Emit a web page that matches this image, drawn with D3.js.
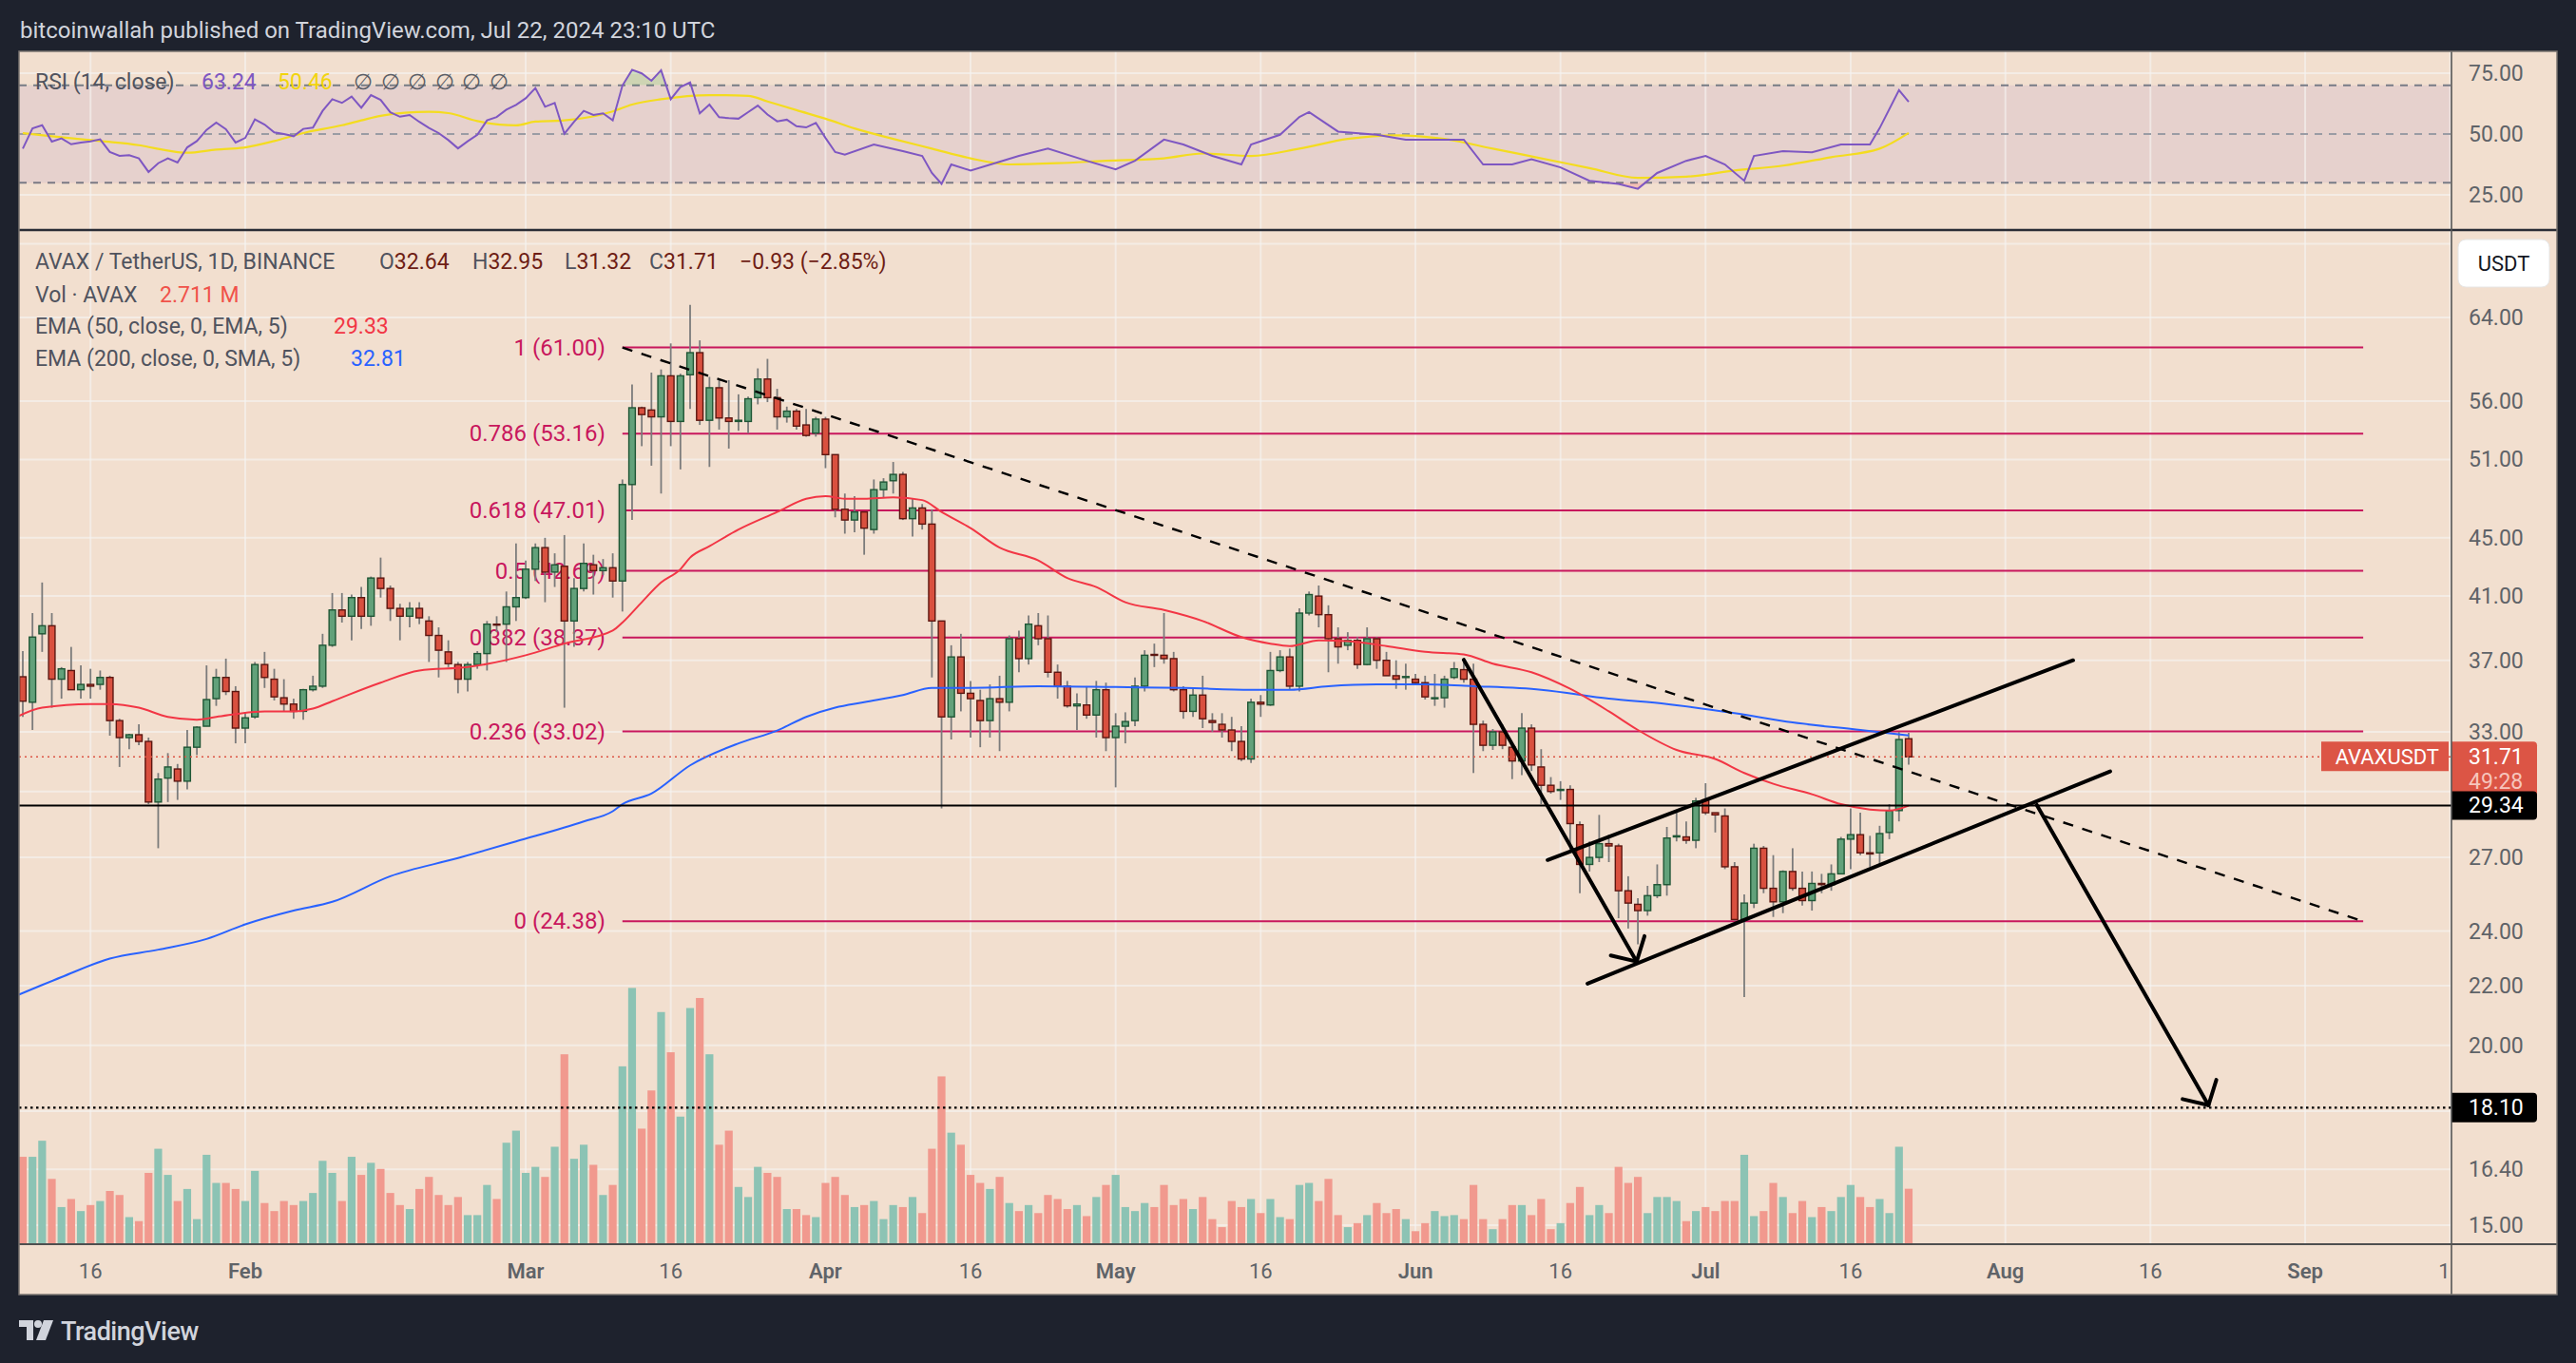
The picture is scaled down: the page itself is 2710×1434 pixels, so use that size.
<!DOCTYPE html>
<html><head><meta charset="utf-8">
<script src="https://cdn.jsdelivr.net/npm/d3@7"></script>
<style>
html,body{margin:0;padding:0;background:#1e222d;}
svg{display:block;}
text{font-family:Roboto,"Noto Sans",sans-serif;}
</style></head><body>
<svg id="c" width="2710" height="1434"></svg>
<script>
// ---------------- DATA ----------------
const firstDate = "2024-01-09", lastDate = "2024-07-22";
const open = [
36.04,34.6,38.6,39.1,35.9,36.4,35.3,35.6,35.6,36.0,
33.6,32.7,32.85,32.5,29.5,30.65,31.1,30.5,32.2,33.3,
34.8,36.0,35.2,33.2,33.8,36.75,35.9,34.85,34.5,34.1,
35.3,35.5,37.9,40.1,39.7,40.9,39.7,42.2,41.5,40.2,
39.7,40.2,39.4,38.5,37.5,36.75,35.9,36.75,37.4,39.2,
39.2,40.3,40.9,42.8,44.3,42.6,43.0,39.4,41.5,43.1,
42.7,42.9,42.0,49.0,55.4,55.2,54.6,58.3,54.2,58.4,
60.5,54.3,57.2,54.5,54.2,54.2,56.3,58.0,56.3,54.6,
55.1,53.9,53.2,54.4,51.4,47.1,46.3,46.9,45.6,48.6,
49.3,49.8,46.4,47.2,46.0,39.4,33.8,37.2,35.1,34.7,
33.6,34.8,34.6,38.3,37.1,39.1,38.3,36.3,35.5,34.4,
34.45,33.9,35.3,32.7,33.3,33.6,35.5,37.35,37.3,37.1,
35.3,34.1,35.0,33.6,33.4,33.1,32.5,31.6,34.6,34.45,
36.4,37.2,35.5,39.9,41.0,39.8,38.3,37.9,38.2,36.75,
38.3,37.0,36.1,36.0,35.9,35.7,34.8,34.85,36.0,36.45,
35.9,33.4,32.3,33.0,32.2,31.5,33.2,31.2,30.3,30.05,
30.1,28.45,26.7,27.0,27.6,27.5,25.6,25.05,24.8,25.4,
25.85,27.9,27.9,27.75,29.6,29.0,28.85,26.6,24.45,25.1,
27.4,25.7,25.15,26.4,25.7,25.2,25.9,25.85,26.3,27.8,
28.0,27.2,27.2,28.1,29.1,32.64];
const high = [
37.55,39.9,41.9,39.9,36.6,37.8,36.7,36.5,36.4,36.1,
33.7,32.9,33.4,32.7,30.9,31.9,31.35,33.1,33.3,36.7,
36.5,37.1,35.5,34.0,36.9,37.5,36.5,35.9,34.8,35.35,
36.1,38.6,41.2,41.2,41.1,41.6,42.3,43.6,41.7,40.5,
40.6,40.6,39.7,39.0,38.2,36.9,36.9,37.55,39.4,39.7,
41.3,44.6,43.4,44.6,45.0,43.9,45.2,42.2,44.6,43.8,
43.5,43.9,49.4,57.5,55.5,58.6,58.9,61.4,58.5,65.3,
61.7,58.2,57.9,57.9,56.6,56.4,59.0,59.9,57.1,55.5,
55.3,55.3,54.6,54.6,51.4,48.3,48.1,46.9,49.4,49.5,
50.8,50.0,47.9,47.5,47.1,39.4,37.9,38.6,35.8,35.3,
35.6,36.1,38.5,38.8,39.75,39.9,39.75,36.75,35.8,35.1,
35.5,35.8,35.7,34.0,34.05,36.0,37.6,38.0,39.9,37.5,
35.5,35.4,36.1,34.0,34.0,33.8,33.3,34.8,35.0,37.5,
37.6,37.7,40.2,41.3,41.7,40.4,39.0,38.7,38.4,39.0,
38.4,37.5,37.0,36.8,36.2,36.1,36.2,36.1,36.9,37.0,
36.8,33.6,33.15,33.4,32.4,34.0,33.4,32.1,30.7,30.5,
30.3,28.6,27.7,28.9,28.0,27.6,26.2,25.3,25.8,26.7,
28.35,29.1,28.6,29.7,30.4,29.0,29.2,26.8,25.45,27.6,
27.5,27.1,26.45,27.4,26.4,26.4,26.3,26.7,27.9,29.2,
29.0,27.95,28.4,29.4,33.0,32.95];
const low = [
33.8,33.1,37.5,34.3,34.8,35.3,34.8,34.8,35.3,32.8,
31.2,32.1,32.3,29.4,27.4,29.5,29.6,30.1,31.8,33.3,
34.4,35.0,32.4,32.4,33.7,35.4,34.7,34.1,33.7,33.65,
35.2,35.4,37.8,39.3,38.2,38.9,39.1,40.9,39.4,38.2,
39.0,39.2,36.9,36.0,36.6,35.1,35.2,36.5,36.4,38.7,
36.9,39.4,40.8,42.0,40.6,41.6,34.3,37.8,41.3,41.1,
42.4,40.9,40.0,46.3,52.1,50.5,48.3,52.1,50.2,55.3,
53.9,50.4,53.5,51.9,53.4,53.2,55.7,55.9,53.5,54.1,
53.5,52.9,52.9,50.3,46.5,45.3,45.4,43.8,45.3,48.0,
48.3,46.3,45.1,45.6,36.0,29.2,32.6,34.1,32.7,32.2,
32.7,32.0,34.1,36.3,36.75,37.9,36.0,34.8,34.3,33.1,
33.7,32.7,32.0,30.2,32.4,33.3,35.2,36.6,36.8,35.2,
33.7,33.8,33.2,33.0,32.7,32.0,31.5,31.4,33.8,34.4,
36.3,35.3,35.2,39.75,39.0,36.3,36.8,37.6,36.5,36.7,
36.5,36.1,35.35,35.3,35.6,34.75,34.4,34.3,35.9,35.7,
30.9,32.0,32.06,32.1,30.6,30.8,31.0,29.4,29.9,29.6,
27.3,25.5,26.4,26.8,26.8,24.5,24.1,23.5,24.6,25.3,
25.4,27.7,27.6,27.4,28.9,28.1,26.5,24.4,21.6,24.9,
25.5,24.55,24.7,25.6,25.0,24.8,25.5,25.6,26.3,26.5,
27.1,26.6,26.7,27.8,28.6,31.32];
const close = [
34.66,38.4,39.1,35.9,36.5,35.3,35.6,35.5,36.0,33.6,
32.7,32.85,32.5,29.5,30.6,31.2,30.5,32.2,33.25,34.75,
36.0,35.2,33.2,33.75,36.75,36.0,34.9,34.5,34.1,35.3,
35.5,37.9,40.1,39.7,40.9,39.7,42.2,41.5,40.2,39.7,
40.2,39.6,38.5,37.6,36.8,35.9,36.75,37.4,39.2,39.15,
40.3,40.9,42.8,44.3,42.6,43.1,39.4,41.5,43.2,42.7,
42.9,42.0,49.0,55.4,54.8,54.6,58.3,54.2,58.3,60.5,
54.3,57.2,54.5,54.2,54.3,56.2,58.0,56.3,54.6,55.1,
53.8,53.0,54.4,51.4,47.1,46.3,46.9,45.7,48.6,49.2,
49.8,46.4,47.2,46.0,39.4,33.8,37.2,35.1,34.8,33.6,
34.8,34.6,38.3,37.1,39.2,38.3,36.3,35.5,34.4,34.5,
33.9,35.3,32.7,33.3,33.55,35.5,37.3,37.3,37.1,35.3,
34.1,35.0,33.7,33.5,33.1,32.5,31.6,34.6,34.5,36.4,
37.2,35.5,39.9,41.1,39.8,38.3,37.8,38.2,36.75,38.3,
37.0,36.1,35.9,36.05,35.7,34.9,34.85,35.9,36.5,35.9,
33.4,32.3,33.0,32.3,31.5,33.2,31.3,30.3,30.0,30.1,
28.5,26.7,27.0,27.6,27.5,25.6,25.1,24.8,25.4,25.85,
27.85,27.95,27.75,29.55,29.0,28.9,26.6,24.45,25.1,27.4,
25.7,25.15,26.4,25.7,25.2,25.9,25.85,26.3,27.8,28.0,
27.2,27.15,28.05,29.1,32.6,31.71];
const volume = [ // millions of AVAX
4.3,4.3,5.1,3.2,1.8,2.2,1.6,1.9,2.1,2.6,
2.4,1.3,1.1,3.5,4.7,3.4,2.1,2.7,1.2,4.4,
3.0,3.0,2.7,2.1,3.6,2.0,1.6,2.1,1.9,2.1,
2.5,4.1,3.5,2.1,4.3,3.4,4.0,3.7,2.5,1.9,
1.7,2.7,3.3,2.4,1.9,2.3,1.4,1.4,2.9,2.2,
5.0,5.6,3.5,3.8,3.3,4.8,9.4,4.2,4.9,3.9,
2.4,2.9,8.8,12.7,5.7,7.6,11.5,9.5,6.3,11.7,
12.2,9.4,4.9,5.6,2.8,2.3,3.8,3.5,3.3,1.7,
1.7,1.4,1.3,3.0,3.3,2.4,1.8,1.9,2.1,1.2,
1.9,1.8,2.3,1.5,4.7,8.3,5.5,4.9,3.4,3.0,
2.7,3.3,2.0,1.6,1.9,1.5,2.4,2.2,1.7,1.9,
1.35,2.3,2.9,3.4,1.8,1.6,2.0,1.8,2.9,1.9,
2.2,1.7,2.3,1.2,0.8,2.1,1.8,2.2,1.5,2.2,
1.3,1.2,2.9,3.0,2.1,3.2,1.4,0.8,1.0,1.4,
2.0,1.5,1.7,1.2,0.6,1.0,1.6,1.35,1.4,1.2,
2.9,1.2,0.7,1.2,1.9,1.9,1.4,2.2,0.7,1.0,
2.0,2.8,1.4,1.9,1.5,3.8,3.0,3.3,1.5,2.3,
2.3,2.1,1.1,1.6,1.8,1.6,2.1,2.1,4.4,1.35,
1.6,3.0,2.3,1.5,2.1,1.3,1.8,1.6,2.3,2.9,
2.3,1.8,2.2,1.5,4.8,2.711];

const ema50 = [["2024-01-08",33.7],["2024-01-11",34.3],["2024-01-16",34.5],["2024-01-18",34.5],["2024-01-21",34.3],["2024-01-24",33.8],["2024-01-27",33.65],["2024-01-29",33.8],["2024-02-03",34.1],["2024-02-06",34.1],["2024-02-08",34.25],["2024-02-10",34.66],["2024-02-15",35.7],["2024-02-19",36.4],["2024-02-24",36.6],["2024-03-01",37.3],["2024-03-05",38.0],["2024-03-10",38.8],["2024-03-11",39.3],["2024-03-13",40.6],["2024-03-15",41.9],["2024-03-17",42.8],["2024-03-18",43.6],["2024-03-20",44.4],["2024-03-23",45.6],["2024-03-27",46.9],["2024-03-30",47.9],["2024-04-01",48.1],["2024-04-03",47.9],["2024-04-05",47.9],["2024-04-08",48.0],["2024-04-11",47.8],["2024-04-13",46.9],["2024-04-16",45.7],["2024-04-19",44.3],["2024-04-23",43.4],["2024-04-26",42.2],["2024-04-29",41.6],["2024-05-02",40.6],["2024-05-06",40.1],["2024-05-10",39.4],["2024-05-14",38.4],["2024-05-17",38.0],["2024-05-19",37.85],["2024-05-22",38.2],["2024-05-25",38.15],["2024-05-29",37.85],["2024-06-02",37.5],["2024-06-06",37.35],["2024-06-09",36.8],["2024-06-13",36.3],["2024-06-17",35.35],["2024-06-21",34.1],["2024-06-24",33.1],["2024-06-28",32.06],["2024-07-02",31.6],["2024-07-05",30.9],["2024-07-08",30.37],["2024-07-12",29.87],["2024-07-15",29.4],["2024-07-18",29.15],["2024-07-20",29.1],["2024-07-22",29.33]];
const ema200 = [["2024-01-08",21.6],["2024-01-13",22.3],["2024-01-18",22.97],["2024-01-23",23.3],["2024-01-28",23.7],["2024-02-01",24.26],["2024-02-06",24.8],["2024-02-10",25.15],["2024-02-16",26.2],["2024-02-23",26.97],["2024-02-29",27.7],["2024-03-07",28.6],["2024-03-10",29.07],["2024-03-11",29.4],["2024-03-14",29.9],["2024-03-18",31.28],["2024-03-23",32.4],["2024-03-27",33.07],["2024-03-30",33.8],["2024-04-02",34.3],["2024-04-05",34.6],["2024-04-09",35.0],["2024-04-12",35.4],["2024-04-16",35.4],["2024-04-23",35.5],["2024-05-01",35.45],["2024-05-08",35.4],["2024-05-15",35.3],["2024-05-19",35.3],["2024-05-23",35.5],["2024-05-28",35.6],["2024-06-02",35.6],["2024-06-07",35.5],["2024-06-14",35.3],["2024-06-21",34.8],["2024-06-27",34.5],["2024-07-04",34.0],["2024-07-10",33.5],["2024-07-17",33.1],["2024-07-22",32.81]];

const rsi = [["2024-01-09",44],["2024-01-10",52.3],["2024-01-11",53.6],["2024-01-12",46.9],["2024-01-13",48.2],["2024-01-14",45.8],["2024-01-15",46.5],["2024-01-16",47],["2024-01-17",47.8],["2024-01-18",42.6],["2024-01-19",41.0],["2024-01-20",41.3],["2024-01-21",40],["2024-01-22",34.4],["2024-01-23",38.0],["2024-01-24",40],["2024-01-25",38.3],["2024-01-26",44.5],["2024-01-27",47.1],["2024-01-28",51.7],["2024-01-29",54.7],["2024-01-30",52],["2024-01-31",46.5],["2024-02-01",48.4],["2024-02-02",56],["2024-02-03",53.9],["2024-02-04",50.7],["2024-02-05",50],["2024-02-06",49.1],["2024-02-07",52.1],["2024-02-08",52.6],["2024-02-09",59.5],["2024-02-10",64.3],["2024-02-11",62.8],["2024-02-12",65.4],["2024-02-13",60.8],["2024-02-14",66],["2024-02-15",64],["2024-02-16",58.9],["2024-02-17",57.1],["2024-02-18",57.8],["2024-02-19",55],["2024-02-20",52.5],["2024-02-21",50.4],["2024-02-22",47.5],["2024-02-23",44.1],["2024-02-24",47],["2024-02-25",49.7],["2024-02-26",55.6],["2024-02-27",57],["2024-02-28",60],["2024-02-29",62],["2024-03-01",64.7],["2024-03-02",68.9],["2024-03-03",61.2],["2024-03-04",62.8],["2024-03-05",50.1],["2024-03-06",55],["2024-03-07",59.5],["2024-03-08",57.8],["2024-03-09",58.5],["2024-03-10",55.6],["2024-03-11",69.9],["2024-03-12",76.4],["2024-03-13",74.9],["2024-03-14",71.9],["2024-03-15",76.2],["2024-03-16",64.3],["2024-03-17",69.3],["2024-03-18",71.2],["2024-03-19",58.5],["2024-03-20",62.1],["2024-03-21",56.9],["2024-03-22",56.5],["2024-03-23",56.3],["2024-03-24",59],["2024-03-25",61.7],["2024-03-26",58],["2024-03-27",55.2],["2024-03-28",55.9],["2024-03-29",53.2],["2024-03-30",52.7],["2024-03-31",54.6],["2024-04-01",48.4],["2024-04-02",42.6],["2024-04-03",41.5],["2024-04-06",45.7],["2024-04-09",43],["2024-04-11",41],["2024-04-12",34],["2024-04-13",29.5],["2024-04-14",37.5],["2024-04-16",35],["2024-04-21",41],["2024-04-24",44],["2024-04-28",39],["2024-05-01",35.5],["2024-05-03",39],["2024-05-06",47.7],["2024-05-08",45.7],["2024-05-11",41],["2024-05-14",37.5],["2024-05-15",45.7],["2024-05-18",49.7],["2024-05-20",57],["2024-05-21",59],["2024-05-24",51],["2024-05-28",49.7],["2024-05-31",47.7],["2024-06-04",47.7],["2024-06-06",47.7],["2024-06-08",37.5],["2024-06-11",37.5],["2024-06-13",39.6],["2024-06-16",36.3],["2024-06-19",30.8],["2024-06-22",29.5],["2024-06-24",27.5],["2024-06-26",34],["2024-06-29",39],["2024-07-01",41],["2024-07-03",37.5],["2024-07-05",30.8],["2024-07-06",41],["2024-07-09",43],["2024-07-12",42.5],["2024-07-15",45.7],["2024-07-18",45.7],["2024-07-19",52.4],["2024-07-21",68],["2024-07-22",63.24]];
const rsiMA = [["2024-01-09",50.4],["2024-01-12",49.1],["2024-01-17",47.1],["2024-01-21",45.4],["2024-01-23",43.9],["2024-01-26",42.3],["2024-01-29",43.6],["2024-02-01",44.5],["2024-02-04",47.1],["2024-02-07",50.4],["2024-02-11",53.6],["2024-02-13",55.6],["2024-02-15",57.5],["2024-02-20",59.1],["2024-02-22",58.6],["2024-02-25",55.3],["2024-02-29",53.6],["2024-03-02",55.1],["2024-03-05",55.6],["2024-03-10",59.3],["2024-03-12",62.1],["2024-03-15",64.3],["2024-03-20",66],["2024-03-24",65.7],["2024-03-26",63.4],["2024-03-29",59.8],["2024-04-01",56.3],["2024-04-04",52.3],["2024-04-08",48],["2024-04-12",44],["2024-04-16",40],["2024-04-20",37.5],["2024-04-25",38],["2024-04-30",39],["2024-05-06",40],["2024-05-10",42],["2024-05-15",41],["2024-05-20",44],["2024-05-25",48],["2024-05-30",49.5],["2024-06-04",48],["2024-06-09",44],["2024-06-14",40],["2024-06-19",36],["2024-06-24",32],["2024-06-29",32.5],["2024-07-04",35],["2024-07-09",37],["2024-07-14",40.5],["2024-07-19",44],["2024-07-22",50.46]];

const fibRatios = ["1","0.786","0.618","0.5","0.382","0.236","0"];
const fibPrices = [61.00,53.16,47.01,42.69,38.37,33.02,24.38];
const fibSpan = ["2024-03-11","2024-09-07"];
const dashedTrend = [["2024-03-11",61.0],["2024-09-07",24.38]];
const channelUpper = [["2024-06-14T16:00:00Z",26.89],["2024-08-08T00:00:00Z",37.0]];
const channelLower = [["2024-06-18T19:00:00Z",22.07],["2024-08-11T20:00:00Z",30.98]];
const arrowDown1 = [["2024-06-06T00:00:00Z",37.03],["2024-06-23T21:00:00Z",22.86]];
const arrowDown2 = [["2024-08-04T06:00:00Z",29.36],["2024-08-22T00:00:00Z",18.17]];
const supportLevel = 29.34, targetLevel = 18.10, lastPrice = 31.71;

const priceTicks = [64,56,51,45,41,37,33,27,24,22,20,16.4,15];
const priceGridOnly = [72,30,18];
const rsiTicks = [75,50,25];
const rsiBands = [70,50,30];
const timeTicks = ["2024-01-16","2024-02-01","2024-03-01","2024-03-16","2024-04-01","2024-04-16","2024-05-01","2024-05-16","2024-06-01","2024-06-16","2024-07-01","2024-07-16","2024-08-01","2024-08-16","2024-09-01","2024-09-16"];
const timeLabels = ["16","Feb","Mar","16","Apr","16","May","16","Jun","16","Jul","16","Aug","16","Sep","16"];

// ---------------- LAYOUT ----------------
const W=2710,H=1434, PL=20, PR=2579, AXR=2690, TOP=54, RSIB=242, PB=1309, BOT=1362;
const C = {bg:"#f2dfcf", dark:"#1e222d", grid:"rgba(246,244,242,0.62)", up:"#62a17a", upB:"#1f5635", dn:"#d9503f", dnB:"#5c1610",
  wick:"#7b7b7b", vUp:"#8cc3b4", vDn:"#f1998e", fib:"#c8175d", ema50:"#f23645", ema200:"#2962ff", rsi:"#7e57c2", rsiMa:"#f4dc1f", txt:"#50535e", axis:"#5f6368"};
const parse = s => new Date(s.length===10 ? s+"T00:00:00Z" : s);

const x = d3.scaleUtc().domain([parse("2024-01-01"), parse("2024-09-16")]).range([-57.4, 2577.7]);
const y = d3.scaleLog().domain([64,15]).range([334,1289]);
const ry = d3.scaleLinear().domain([75,25]).range([77,205]);
const vy = d3.scaleLinear().domain([0,10]).range([1308,1096.5]);

const dates = d3.utcDay.range(parse(firstDate), d3.utcDay.offset(parse(lastDate),1));
const bars = dates.map((d,i)=>({d, o:open[i], h:high[i], l:low[i], c:close[i], v:volume[i]}));

const svg = d3.select("#c");
svg.append("rect").attr("width",W).attr("height",H).attr("fill",C.dark);
svg.append("rect").attr("x",PL).attr("y",TOP).attr("width",AXR-PL).attr("height",BOT-TOP).attr("fill",C.bg);

const defs = svg.append("defs");
defs.append("clipPath").attr("id","cp").append("rect").attr("x",PL).attr("y",RSIB).attr("width",PR-PL).attr("height",PB-RSIB);
defs.append("clipPath").attr("id","cr").append("rect").attr("x",PL).attr("y",TOP).attr("width",PR-PL).attr("height",RSIB-TOP);
defs.append("clipPath").attr("id","ct").append("rect").attr("x",PL).attr("y",PB).attr("width",PR-PL).attr("height",BOT-PB);
defs.append("clipPath").attr("id","cob").append("rect").attr("x",PL).attr("y",TOP).attr("width",PR-PL).attr("height",ry(70)-TOP);
defs.append("clipPath").attr("id","cos").append("rect").attr("x",PL).attr("y",ry(30)).attr("width",PR-PL).attr("height",RSIB-ry(30));

// ---- RSI pane ----
const gR = svg.append("g").attr("clip-path","url(#cr)");
gR.append("rect").attr("x",PL).attr("y",ry(70)).attr("width",PR-PL).attr("height",ry(30)-ry(70)).attr("fill","rgba(126,87,194,0.10)");
timeTicks.forEach(t=>gR.append("line").attr("x1",x(parse(t))).attr("x2",x(parse(t))).attr("y1",TOP).attr("y2",RSIB).attr("stroke",C.grid).attr("stroke-width",2));
[75,25].forEach(v=>gR.append("line").attr("x1",PL).attr("x2",PR).attr("y1",ry(v)).attr("y2",ry(v)).attr("stroke",C.grid).attr("stroke-width",2));
rsiBands.forEach(v=>gR.append("line").attr("x1",PL).attr("x2",PR).attr("y1",ry(v)).attr("y2",ry(v))
  .attr("stroke", v===50?"#9a9ca4":"#787b86").attr("stroke-width",2).attr("stroke-dasharray","8,7"));
// overbought / oversold fills
gR.append("path").datum(rsi).attr("clip-path","url(#cob)").attr("fill","rgba(76,175,80,0.22)")
  .attr("d", d3.area().x(d=>x(parse(d[0]))).y0(ry(70)).y1(d=>ry(d[1])));
gR.append("path").datum(rsi).attr("clip-path","url(#cos)").attr("fill","rgba(242,54,69,0.18)")
  .attr("d", d3.area().x(d=>x(parse(d[0]))).y0(ry(30)).y1(d=>ry(d[1])));
gR.append("path").datum(rsiMA).attr("fill","none").attr("stroke",C.rsiMa).attr("stroke-width",2.2)
  .attr("d", d3.line().x(d=>x(parse(d[0]))).y(d=>ry(d[1])).curve(d3.curveMonotoneX));
gR.append("path").datum(rsi).attr("fill","none").attr("stroke",C.rsi).attr("stroke-width",2)
  .attr("d", d3.line().x(d=>x(parse(d[0]))).y(d=>ry(d[1])));

// ---- Price pane ----
const gP = svg.append("g").attr("clip-path","url(#cp)");
timeTicks.forEach(t=>gP.append("line").attr("x1",x(parse(t))).attr("x2",x(parse(t))).attr("y1",RSIB).attr("y2",PB).attr("stroke",C.grid).attr("stroke-width",2));
priceTicks.concat(priceGridOnly).forEach(p=>gP.append("line").attr("x1",PL).attr("x2",PR).attr("y1",y(p)).attr("y2",y(p)).attr("stroke",C.grid).attr("stroke-width",2));

// volume
gP.selectAll("rect.vol").data(bars).join("rect").attr("class","vol")
  .attr("x",d=>x(d.d)-4.1).attr("width",8.2).attr("y",d=>vy(d.v)).attr("height",d=>vy(0)-vy(d.v))
  .attr("fill",d=>d.c>=d.o?C.vUp:C.vDn);

// fib
const fx0 = x(parse(fibSpan[0])), fx1 = x(parse(fibSpan[1]));
fibPrices.forEach((p,i)=>{
  gP.append("line").attr("x1",fx0).attr("x2",fx1).attr("y1",y(p)).attr("y2",y(p)).attr("stroke",C.fib).attr("stroke-width",2);
  gP.append("text").attr("x",fx0-18).attr("y",y(p)+8).attr("text-anchor","end").attr("font-size",24).attr("fill",C.fib)
    .text(`${fibRatios[i]} (${p.toFixed(2)})`);
});

// candles
const cg = gP.append("g");
bars.forEach(b=>{
  const cx = x(b.d), up = b.c>=b.o;
  cg.append("line").attr("x1",cx).attr("x2",cx).attr("y1",y(b.h)).attr("y2",y(b.l)).attr("stroke",C.wick).attr("stroke-width",1.8);
  const top = y(Math.max(b.o,b.c)), bot = y(Math.min(b.o,b.c));
  cg.append("rect").attr("x",cx-3.4).attr("width",6.8).attr("y",top).attr("height",Math.max(bot-top,1))
    .attr("fill",up?C.up:C.dn).attr("stroke",up?C.upB:C.dnB).attr("stroke-width",1.4);
});

// EMAs
const pl = d3.line().x(d=>x(parse(d[0]))).y(d=>y(d[1])).curve(d3.curveMonotoneX);
gP.append("path").datum(ema200).attr("fill","none").attr("stroke",C.ema200).attr("stroke-width",2).attr("d",pl);
gP.append("path").datum(ema50).attr("fill","none").attr("stroke",C.ema50).attr("stroke-width",2).attr("d",pl);

// horizontal levels
gP.append("line").attr("x1",PL).attr("x2",PR).attr("y1",y(lastPrice)).attr("y2",y(lastPrice)).attr("stroke","#dc5545").attr("stroke-width",1.6).attr("stroke-dasharray","2,4");
gP.append("line").attr("x1",PL).attr("x2",PR).attr("y1",y(supportLevel)).attr("y2",y(supportLevel)).attr("stroke","#000").attr("stroke-width",2);
gP.append("line").attr("x1",PL).attr("x2",PR).attr("y1",y(targetLevel)).attr("y2",y(targetLevel)).attr("stroke","#000").attr("stroke-width",2.2).attr("stroke-dasharray","2.5,3.5");

// drawings
const pt = d=>[x(parse(d[0])), y(d[1])];
gP.append("path").attr("d", d3.line()(dashedTrend.map(pt))).attr("stroke","#000").attr("stroke-width",2.4).attr("stroke-dasharray","11,10").attr("fill","none");
[channelUpper, channelLower, arrowDown1, arrowDown2].forEach(seg=>{
  gP.append("path").attr("d", d3.line()(seg.map(pt))).attr("stroke","#000").attr("stroke-width",4).attr("fill","none").attr("stroke-linecap","round");
});
function head(seg){
  const p0=pt(seg[0]), p1=pt(seg[1]), a=Math.atan2(p1[1]-p0[1],p1[0]-p0[0]), L=28, g=0.82;
  return `M${p1[0]-L*Math.cos(a-g)},${p1[1]-L*Math.sin(a-g)}L${p1[0]},${p1[1]}L${p1[0]-L*Math.cos(a+g)},${p1[1]-L*Math.sin(a+g)}`;
}
[arrowDown1, arrowDown2].forEach(seg=>gP.append("path").attr("d",head(seg)).attr("stroke","#000").attr("stroke-width",4).attr("fill","none").attr("stroke-linecap","round").attr("stroke-linejoin","round"));

// price label on chart
gP.append("rect").attr("x",2442).attr("y",y(lastPrice)-16).attr("width",PR-2442-3).attr("height",31).attr("fill","#dc5545");
gP.append("text").attr("x",PR-13).attr("y",y(lastPrice)+8).attr("text-anchor","end").attr("font-size",22).attr("fill","#fff").text("AVAXUSDT");

// ---- Legends ----
const lg = svg.append("g").attr("font-size",23);
const rl = lg.append("text").attr("x",37).attr("y",94).attr("fill",C.txt);
rl.append("tspan").text("RSI (14, close)");
lg.append("text").attr("x",212).attr("y",94).attr("fill",C.rsi).text("63.24");
lg.append("text").attr("x",292).attr("y",94).attr("fill","#f2d40c").text("50.46");
d3.range(6).forEach(i=>lg.append("text").attr("x",372+i*28.5).attr("y",94).attr("fill","#5a5d66").text("\u2205"));

lg.append("text").attr("x",37).attr("y",283).attr("fill",C.txt).text("AVAX / TetherUS, 1D, BINANCE");
const ohlc = [["O","32.64",399],["H","32.95",497],["L","31.32",594],["C","31.71",683]];
ohlc.forEach(o=>{const t=lg.append("text").attr("x",o[2]).attr("y",283);
  t.append("tspan").attr("fill",C.txt).text(o[0]); t.append("tspan").attr("fill","#6e1d15").text(o[1]);});
lg.append("text").attr("x",778).attr("y",283).attr("fill","#6e1d15").text("\u22120.93 (\u22122.85%)");
lg.append("text").attr("x",37).attr("y",318).attr("fill",C.txt).text("Vol \u00b7 AVAX");
lg.append("text").attr("x",168).attr("y",318).attr("fill","#f0524a").text("2.711 M");
lg.append("text").attr("x",37).attr("y",351).attr("fill",C.txt).text("EMA (50, close, 0, EMA, 5)");
lg.append("text").attr("x",351).attr("y",351).attr("fill",C.ema50).text("29.33");
lg.append("text").attr("x",37).attr("y",385).attr("fill",C.txt).text("EMA (200, close, 0, SMA, 5)");
lg.append("text").attr("x",369).attr("y",385).attr("fill",C.ema200).text("32.81");

// ---- Axes ----
const ax = svg.append("g").attr("font-size",23).attr("fill",C.axis);
rsiTicks.forEach(v=>ax.append("text").attr("x",2597).attr("y",ry(v)+8).text(v.toFixed(2)));
priceTicks.forEach(p=>ax.append("text").attr("x",2597).attr("y",y(p)+8).text(p.toFixed(2)));
// USDT box
svg.append("rect").attr("x",2586).attr("y",252).attr("width",96).attr("height",50).attr("rx",8).attr("fill","#fff").attr("stroke","#e6e6e6");
svg.append("text").attr("x",2634).attr("y",285).attr("text-anchor","middle").attr("font-size",22).attr("fill","#131722").text("USDT");
// last price box
svg.append("path").attr("d",`M${PR},${y(lastPrice)-16}h86a4,4 0 0 1 4,4v50a4,4 0 0 1 -4,4h-86z`).attr("fill","#dc5545");
svg.append("text").attr("x",2597).attr("y",y(lastPrice)+8).attr("font-size",23).attr("fill","#fff").text(lastPrice.toFixed(2));
svg.append("text").attr("x",2597).attr("y",y(lastPrice)+34).attr("font-size",23).attr("fill","#f6c5bc").text("49:28");
[[supportLevel,30],[targetLevel,31]].forEach(([p,h])=>{
  svg.append("path").attr("d",`M${PR},${y(p)-h/2}h86a4,4 0 0 1 4,4v${h-8}a4,4 0 0 1 -4,4h-86z`).attr("fill","#000");
  svg.append("text").attr("x",2597).attr("y",y(p)+8).attr("font-size",23).attr("fill","#fff").text(p.toFixed(2));
});

// time axis
const gt = svg.append("g").attr("clip-path","url(#ct)");
timeTicks.forEach((t,i)=>gt.append("text").attr("x",x(parse(t))).attr("y",1345).attr("text-anchor","middle")
  .attr("font-size",22).attr("font-weight",timeLabels[i]==="16"?400:600).attr("fill",C.axis).text(timeLabels[i]));

// separators & border
svg.append("line").attr("x1",PL).attr("x2",AXR).attr("y1",RSIB).attr("y2",RSIB).attr("stroke","#2a2d36").attr("stroke-width",2.5);
svg.append("line").attr("x1",PL).attr("x2",AXR).attr("y1",PB).attr("y2",PB).attr("stroke","#4f4f4f").attr("stroke-width",2);
svg.append("line").attr("x1",PR).attr("x2",PR).attr("y1",TOP).attr("y2",BOT).attr("stroke","#555").attr("stroke-width",1.6);
svg.append("rect").attr("x",PL).attr("y",TOP).attr("width",AXR-PL).attr("height",BOT-TOP).attr("fill","none").attr("stroke","#7a7470").attr("stroke-width",1.5);

// header & footer
svg.append("text").attr("x",21).attr("y",40).attr("font-size",24).attr("fill","#d1d4dc").text("bitcoinwallah published on TradingView.com, Jul 22, 2024 23:10 UTC");
const lgo = svg.append("g").attr("fill","#d1d4dc");
lgo.append("path").attr("d","M20,1389h15v21h-7v-14h-8z");
lgo.append("circle").attr("cx",40).attr("cy",1393).attr("r",4);
lgo.append("path").attr("d","M46,1389h10l-8,21h-10z");
svg.append("text").attr("x",64).attr("y",1410).attr("font-size",27).attr("font-weight",500).attr("fill","#d1d4dc").attr("letter-spacing",-0.5).text("TradingView");
</script></body></html>
